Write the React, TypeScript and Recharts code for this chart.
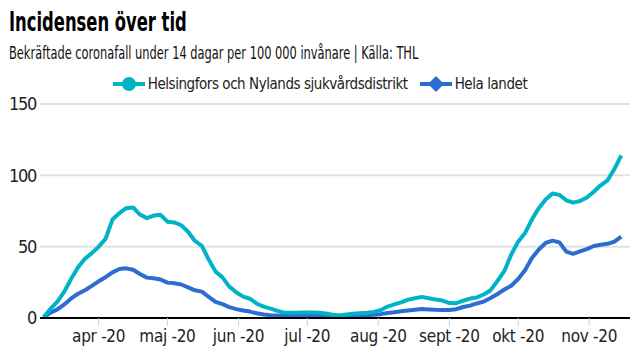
import { CartesianGrid, Line, LineChart, XAxis, YAxis } from "recharts";

// sampled every third day, day 0 = 1 March 2020
const firstDay = 7;
const stepDays = 3;

const hus = [
  0.5, 6.5, 11.5, 18.5, 27.5, 35.5, 41.5, 45.5, 50, 55.5, 69, 73.5, 77, 77.5, 72.5, 70, 71.8, 72.3, 67.5, 67, 65,
  60.5, 54, 50.5, 41, 32.5, 28.5, 22, 18, 15, 13.5, 10, 8, 6.6, 5, 3.7, 3.7, 3.7, 3.8, 3.8, 3.6, 3.1, 2.3, 1.8, 2.4,
  3, 3.3, 3.7, 4.3, 5.5, 8, 9.5, 11, 12.8, 13.9, 14.8, 13.8, 13, 12.2, 10.5, 10.4, 12.1, 13.6, 14.4, 16.5, 19.5, 26,
  33, 44.5, 53.5, 59.5, 69, 77, 83, 87.3, 86.3, 82.5, 80.9, 82, 84.5, 88.5, 93, 96.5, 104.5, 114,
];

const helaLandet = [
  0.5, 3.8, 6, 9.5, 13.7, 17, 19.5, 22.5, 25.7, 28.6, 32, 34.3, 34.8, 33.8, 30.8, 28.3, 27.8, 27, 24.8, 24.3, 23.5,
  21.5, 19.4, 18.5, 14.8, 11.3, 9.7, 7.6, 6.2, 5.3, 4.5, 3.3, 2.5, 2, 1.7, 1.6, 1.5, 1.5, 1.4, 1.4, 1.4, 1.4, 1.3,
  1.3, 1.4, 1.5, 1.7, 1.9, 2.3, 2.7, 3.5, 4.1, 4.7, 5.2, 5.8, 6.3, 6, 5.7, 5.6, 5.6, 6.2, 7.7, 8.7, 10.2, 11.5, 14,
  16.8, 20, 22.6, 27.3, 33.5, 42, 48, 52.6, 54.2, 53, 46.5, 45, 46.7, 48.3, 50.5, 51.3, 52, 53.5, 57,
];

const monthDays = [31, 61, 92, 122, 153, 184, 214, 245];
const monthLabels = ["apr -20", "maj -20", "jun -20", "jul -20", "aug -20", "sept -20", "okt -20", "nov -20"];
const yTicks = [0, 50, 100, 150];

const seriesNames = ["Helsingfors och Nylands sjukvårdsdistrikt", "Hela landet"];
const CYAN = "#00b4c8";
const BLUE = "#2d6dd2";

const data = hus.map((v, i) => ({ day: firstDay + i * stepDays, hus: v, hela: helaLandet[i] }));

const FONT = "'DejaVu Sans Condensed', 'DejaVu Sans', sans-serif";

function LegendItem({
  color,
  label,
  shape,
  gap,
}: {
  color: string;
  label: string;
  shape: "circle" | "diamond";
  gap: number;
}) {
  return (
    <div style={{ display: "flex", alignItems: "center", marginRight: gap }}>
      <svg width={32} height={16}>
        <line x1={0} y1={8} x2={32} y2={8} stroke={color} strokeWidth={4} />
        {shape === "circle" ? (
          <circle cx={16} cy={8} r={7} fill={color} />
        ) : (
          <polygon points="16,0 24,8 16,16 8,8" fill={color} />
        )}
      </svg>
      <span style={{ fontSize: 15, color: "#222", marginLeft: 3, letterSpacing: -0.45 }}>{label}</span>
    </div>
  );
}

export default function App() {
  return (
    <div
      style={{
        position: "absolute",
        left: 0,
        top: 0,
        width: 640,
        height: 360,
        background: "#fff",
        fontFamily: FONT,
        overflow: "hidden",
      }}
    >
      <div
        style={{
          position: "absolute",
          left: 9,
          top: 7,
          fontSize: 26,
          fontWeight: 700,
          color: "#000",
          whiteSpace: "nowrap",
          transform: "scaleX(0.70)",
          transformOrigin: "left top",
        }}
      >
        Incidensen över tid
      </div>
      <div
        style={{
          position: "absolute",
          left: 9,
          top: 43,
          fontSize: 17,
          color: "#111",
          whiteSpace: "nowrap",
          transform: "scaleX(0.746)",
          transformOrigin: "left top",
        }}
      >
        Bekräftade coronafall under 14 dagar per 100 000 invånare | Källa: THL
      </div>
      <div
        style={{
          position: "absolute",
          left: 0,
          top: 75,
          width: 640,
          display: "flex",
          justifyContent: "center",
        }}
      >
        <LegendItem color={CYAN} label={seriesNames[0]} shape="circle" gap={12} />
        <LegendItem color={BLUE} label={seriesNames[1]} shape="diamond" gap={0} />
      </div>
      <div style={{ position: "absolute", left: 0, top: 0 }}>
        <LineChart width={640} height={360} data={data} margin={{ top: 104, right: 10, bottom: 12, left: 0 }}>
          <CartesianGrid vertical={false} stroke="#e2e2e2" strokeWidth={2} />
          <XAxis
            type="number"
            dataKey="day"
            domain={[5.4, 262.8]}
            ticks={monthDays}
            tickFormatter={(d: number) => monthLabels[monthDays.indexOf(d)]}
            axisLine={{ stroke: "#000", strokeWidth: 2 }}
            tickLine={{ stroke: "#c8d4e6" }}
            tickSize={8}
            tickMargin={4}
            height={30}
            tick={{ fontSize: 17, fill: "#222", fontFamily: FONT, letterSpacing: -0.3 }}
            allowDataOverflow
          />
          <YAxis
            domain={[0, 150]}
            ticks={yTicks}
            axisLine={false}
            tickLine={false}
            tickSize={2}
            tickMargin={2}
            width={40}
            tick={{ fontSize: 18, fill: "#222", fontFamily: FONT, letterSpacing: -1.3 }}
          />
          <Line
            type="linear"
            dataKey="hela"
            stroke={BLUE}
            strokeWidth={4}
            dot={false}
            isAnimationActive={false}
            strokeLinejoin="round"
          />
          <Line
            type="linear"
            dataKey="hus"
            stroke={CYAN}
            strokeWidth={4}
            dot={false}
            isAnimationActive={false}
            strokeLinejoin="round"
          />
        </LineChart>
      </div>
    </div>
  );
}
